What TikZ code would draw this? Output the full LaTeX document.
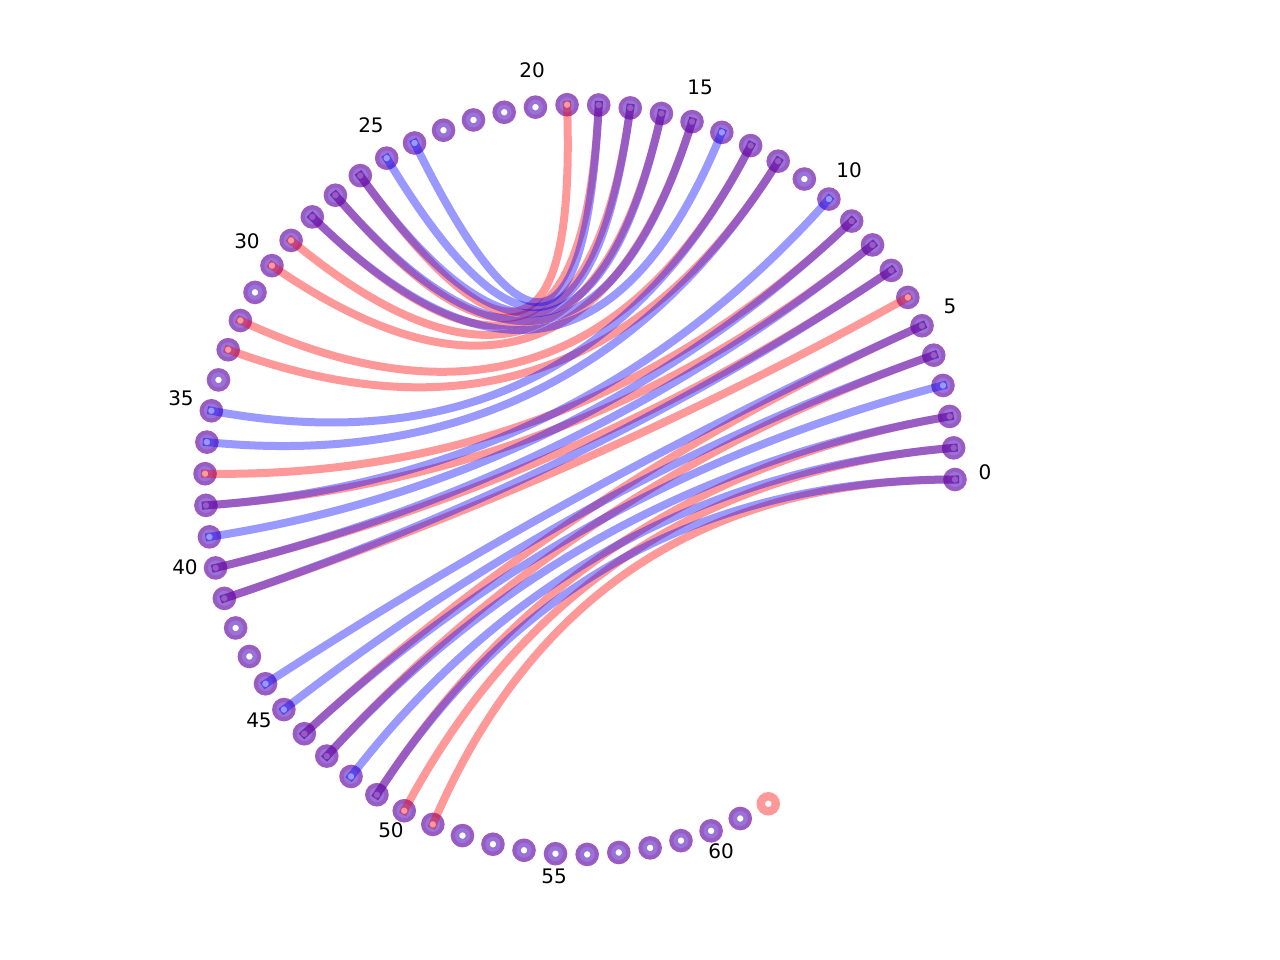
\documentclass[tikz,border=0pt]{standalone}
\usepackage{fontspec}
\setmainfont{DejaVu Sans}
\usetikzlibrary{calc}
\tikzset{
  redge/.style={draw=red, opacity=0.4, line width=8pt, line cap=rect},
  bedge/.style={draw=blue, opacity=0.4, line width=8pt, line cap=rect},
  rring/.style={draw=red, fill=white, opacity=0.4, line width=8.4pt},
  bring/.style={draw=blue, fill=white, opacity=0.4, line width=8.4pt},
  lbl/.style={font=\fontsize{20}{24}\selectfont, inner sep=0pt}
}
\begin{document}
\begin{tikzpicture}[x=1pt,y=-1pt]
\useasboundingbox (0,0) rectangle (1280,960);
\coordinate (c) at (580,479.5);
\foreach \k in {0,...,62} {
  \pgfmathsetmacro\ang{\k*4.841}
  \coordinate (n\k) at ({580+375*cos(\ang)},{479.5-375*sin(\ang)});
}
% nodes
\foreach \k in {0,...,62} \draw[rring] (n\k) circle (7.5);
\foreach \k in {0,...,61} \draw[bring] (n\k) circle (7.5);
% red graph edges
\foreach \a/\b in {19/26,18/27,17/28,16/29,15/30,13/32,12/33,41/6,40/7,38/8,37/9,51/0,50/1,49/2,47/4,46/5}
  \draw[redge] (n\a) .. controls ($(n\a)!0.6667!(c)$) and ($(n\b)!0.6667!(c)$) .. (n\b);
% blue graph edges
\foreach \a/\b in {18/24,17/25,16/26,15/27,14/28,13/35,12/36,41/7,40/8,39/9,38/10,49/0,48/1,47/2,46/3,45/4,44/5}
  \draw[bedge] (n\a) .. controls ($(n\a)!0.6667!(c)$) and ($(n\b)!0.6667!(c)$) .. (n\b);
% labels
\node[lbl] (l0) at (985,472) {0};
\node[lbl] (l5) at (950,306) {5};
\node[lbl] (l10) at (849,170) {10};
\node[lbl] (l15) at (700,87) {15};
\node[lbl] (l20) at (532,70) {20};
\node[lbl] (l25) at (371,125) {25};
\node[lbl] (l30) at (247,241) {30};
\node[lbl] (l35) at (181,398) {35};
\node[lbl] (l40) at (185,567) {40};
\node[lbl] (l45) at (259,720) {45};
\node[lbl] (l50) at (391,830) {50};
\node[lbl] (l55) at (554,876) {55};
\node[lbl] (l60) at (721,851) {60};
\end{tikzpicture}
\end{document}
